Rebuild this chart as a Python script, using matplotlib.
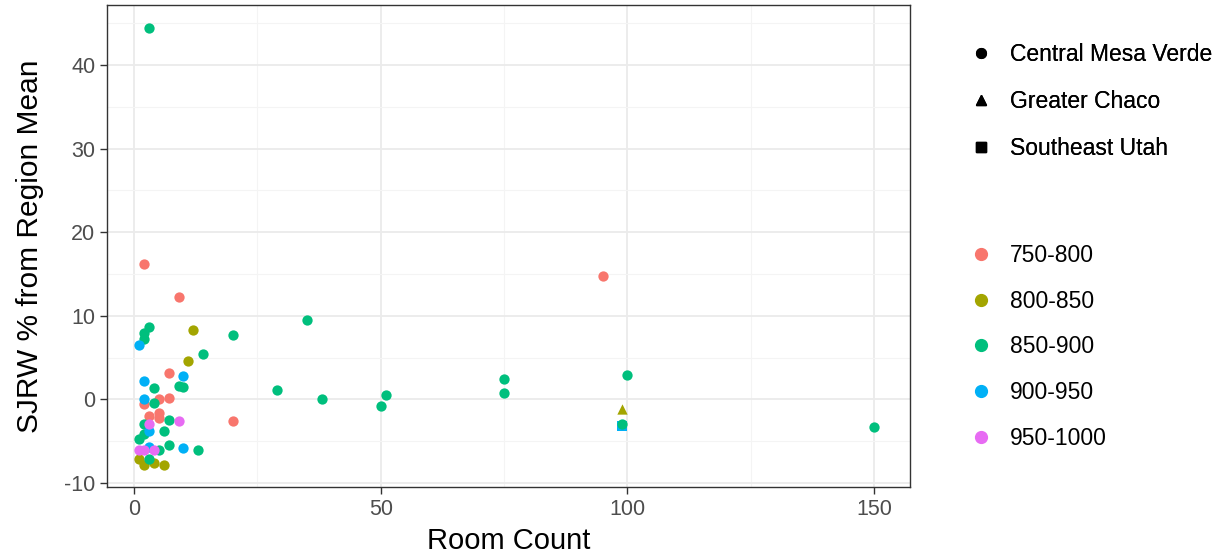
import matplotlib
matplotlib.use("Agg")
import matplotlib.pyplot as plt
from matplotlib.lines import Line2D

plt.rcParams["font.family"] = ["Liberation Sans", "DejaVu Sans"]
plt.rcParams["axes.unicode_minus"] = False

# room count, SJRW % from region mean, period, region
room = [2, 9, 95, 7, 7, 5, 2, 3, 5, 5, 20,
        12, 11, 1, 2, 4, 6, 99,
        3, 3, 2, 2, 20, 35, 14, 4, 9, 10, 4, 29, 38, 51, 50, 75, 75, 100,
        7, 2, 6, 2, 1, 7, 13, 5, 3, 150, 99,
        1, 10, 2, 2, 3, 3, 10, 99,
        9, 3, 1, 2, 4]
sjrw = [16.2, 12.3, 14.8, 3.1, 0.2, 0.0, -0.6, -2.0, -1.6, -2.2, -2.6,
        8.3, 4.6, -7.2, -7.9, -7.6, -7.9, -1.2,
        44.5, 8.7, 7.9, 7.2, 7.7, 9.5, 5.4, 1.4, 1.6, 1.5, -0.5, 1.1, 0.0, 0.5, -0.8, 2.4, 0.7, 2.9,
        -2.5, -2.9, -3.8, -4.1, -4.8, -5.5, -6.1, -6.1, -7.1, -3.3, -2.9,
        6.5, 2.8, 2.2, 0.0, -3.8, -5.7, -5.8, -3.2,
        -2.6, -3.0, -6.1, -6.1, -6.1]
period = (["750-800"] * 11 + ["800-850"] * 7 + ["850-900"] * 29
          + ["900-950"] * 8 + ["950-1000"] * 5)
region = (["Central Mesa Verde"] * 17 + ["Greater Chaco"]
          + ["Central Mesa Verde"] * 36 + ["Southeast Utah"]
          + ["Central Mesa Verde"] * 5)

periods = ["750-800", "800-850", "850-900", "900-950", "950-1000"]
colors = ["#F8766D", "#A3A500", "#00BF7D", "#00B0F6", "#E76BF3"]
regions = ["Central Mesa Verde", "Greater Chaco", "Southeast Utah"]
shapes = ["o", "^", "s"]

fig = plt.figure(figsize=(12.25, 5.58), dpi=100)
ax = fig.add_axes([107 / 1225, 71 / 558, 803 / 1225, 482 / 558])

# draw square first so the circle lands on top
order = sorted(range(len(room)), key=lambda i: 0 if region[i] == "Southeast Utah" else 1)
for i in order:
    ax.scatter(room[i], sjrw[i], s=55, marker=shapes[regions.index(region[i])],
               color=colors[periods.index(period[i])], linewidths=0, zorder=3)

ax.set_xlim(-5.5, 157.3)
ax.set_ylim(-10.5, 47.2)
ax.set_xticks([0, 50, 100, 150])
ax.set_yticks([-10, 0, 10, 20, 30, 40])
ax.set_xticks([25, 75, 125], minor=True)
ax.set_yticks([-5, 5, 15, 25, 35, 45], minor=True)
ax.grid(True, which="major", color="#EBEBEB", linewidth=1.3, zorder=0)
ax.grid(True, which="minor", color="#F4F4F4", linewidth=0.8, zorder=0)
ax.set_axisbelow(True)
for sp in ax.spines.values():
    sp.set_color("#333333")
    sp.set_linewidth(1.0)
ax.tick_params(which="major", length=5, width=1, color="#333333",
               labelsize=15.5, labelcolor="#4D4D4D")
ax.tick_params(which="minor", length=0)
ax.set_xlabel("Room Count", fontsize=21, labelpad=5)
ax.set_ylabel("SJRW % from Region Mean", fontsize=21.5, labelpad=14)

shape_handles = [Line2D([], [], marker=m, linestyle="", color="black", markersize=7)
                 for m in shapes]
leg1 = fig.legend(shape_handles, regions, loc="upper left", bbox_to_anchor=(947 / 1225, 1 - 22 / 558),
                  frameon=False, fontsize=16.5, labelspacing=1.05, handletextpad=0.64,
                  handlelength=1.2)
color_handles = [Line2D([], [], marker="o", linestyle="", color=c, markersize=8.5)
                 for c in colors]
leg2 = fig.legend(color_handles, periods, loc="upper left", bbox_to_anchor=(947 / 1225, 1 - 223 / 558),
                  frameon=False, fontsize=16.5, labelspacing=1.0, handletextpad=0.64,
                  handlelength=1.2)
fig.add_artist(leg1)

fig.savefig("out.png", dpi=100)
